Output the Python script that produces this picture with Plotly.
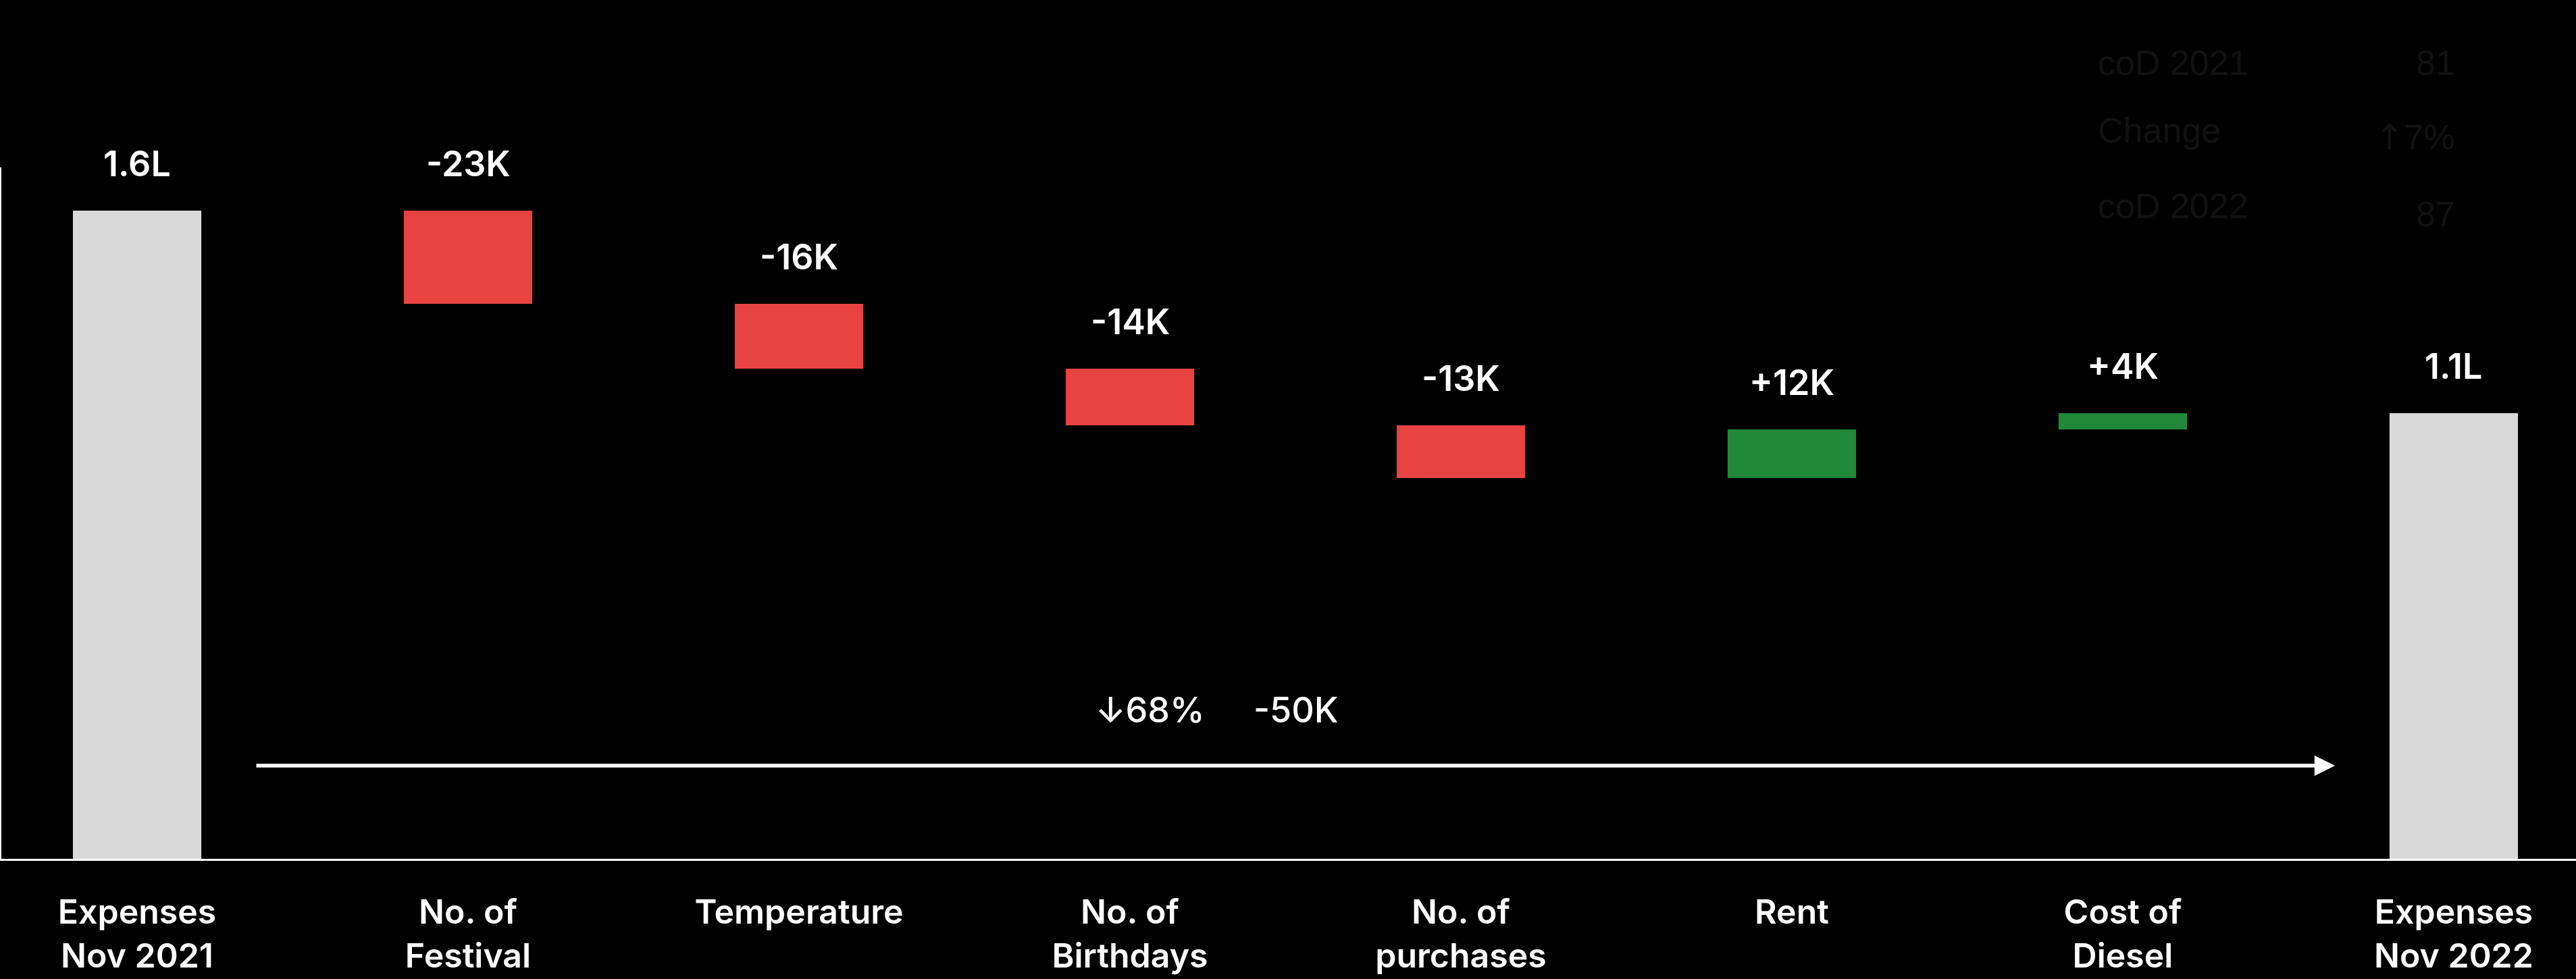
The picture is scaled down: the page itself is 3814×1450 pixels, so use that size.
import plotly.graph_objects as go

# Data (values in thousands)
categories = [
    "Expenses<br>Nov 2021", "No. of<br>Festival", "Temperature", "No. of<br>Birthdays",
    "No. of<br>purchases", "Rent", "Cost of<br>Diesel", "Expenses<br>Nov 2022",
]
measures = ["absolute", "relative", "relative", "relative", "relative", "relative", "relative", "total"]
values = [160, -23, -16, -14, -13, 12, 4, 0]
value_labels = ["1.6L", "-23K", "-16K", "-14K", "-13K", "+12K", "+4K", "1.1L"]

change_pct = "\u219368%"
change_abs = "-50K"

side_labels = ["coD 2021", "Change", "coD 2022"]
side_values = ["81", "<span style='font-family:DejaVu Sans'>\u2191</span>7%", "87"]

FONT = "Inter"
GRAY = "#D9D9D9"
RED = "#E84343"
GREEN = "#1F8939"

fig = go.Figure()

fig.add_trace(go.Waterfall(
    x=categories,
    y=values,
    measure=measures,
    width=0.388,
    connector=dict(visible=False),
    increasing=dict(marker=dict(color=GREEN)),
    decreasing=dict(marker=dict(color=RED)),
    totals=dict(marker=dict(color=GRAY)),
    hoverinfo="skip",
    showlegend=False,
))

# value labels above the top of each bar
running = 0
for i, (m, v, lab) in enumerate(zip(measures, values, value_labels)):
    if m == "absolute":
        top = v
        running = v
    elif m == "total":
        top = running
    else:
        top = max(running, running + v)
        running += v
    fig.add_annotation(
        x=i, y=top, text=lab, showarrow=False, yanchor="middle", yshift=70,
        font=dict(family=FONT, size=52, color="white", weight=600),
    )

# overall change arrow
fig.add_annotation(
    x=6.641, y=23, ax=0.357, ay=23, xref="x", yref="y", axref="x", ayref="y",
    text="", showarrow=True, arrowhead=2, arrowsize=1.1, arrowwidth=5.5,
    arrowcolor="white",
)
fig.add_annotation(
    x=3.061, y=36.8, text=change_pct, showarrow=False,
    font=dict(family=FONT, size=52, color="white", weight=500),
)
fig.add_annotation(
    x=3.502, y=36.8, text=change_abs, showarrow=False,
    font=dict(family=FONT, size=52, color="white", weight=500),
)

# faint side table in the top right
label_y = [1.1514, 1.0537, 0.9443]
value_y = [1.1514, 1.0439, 0.9326]
for lab, val, ly, vy in zip(side_labels, side_values, label_y, value_y):
    fig.add_annotation(
        x=0.8138, y=ly, xref="paper", yref="paper", text=lab, showarrow=False,
        xanchor="left", yanchor="middle",
        font=dict(family="Liberation Sans", size=52, color="#111111"),
    )
    fig.add_annotation(
        x=0.9536, y=vy, xref="paper", yref="paper", text=val, showarrow=False,
        xanchor="right", yanchor="middle",
        font=dict(family="Liberation Sans", size=52, color="#111111"),
    )

fig.update_layout(
    width=3814, height=1450,
    margin=dict(l=2, r=0, t=248, b=178),
    paper_bgcolor="black",
    plot_bgcolor="black",
    font=dict(family=FONT, color="white"),
)
fig.update_xaxes(
    range=[-0.4102, 7.3694],
    showline=True, linecolor="white", linewidth=3,
    showgrid=False, ticks="", zeroline=False,
    tickfont=dict(family=FONT, size=50, color="white", weight=600),
    ticklabelstandoff=33,
    automargin=False,
)
fig.update_yaxes(
    range=[0, 170.67],
    showline=True, linecolor="white", linewidth=2,
    showgrid=False, zeroline=False, showticklabels=False, ticks="",
    automargin=False,
)

# drop the browser's default page margin so the figure sits at the top-left corner
fig.write_html(
    "out.html",
    config={"displayModeBar": False},
    post_script="document.body.style.margin='0';document.body.style.background='black';",
)
